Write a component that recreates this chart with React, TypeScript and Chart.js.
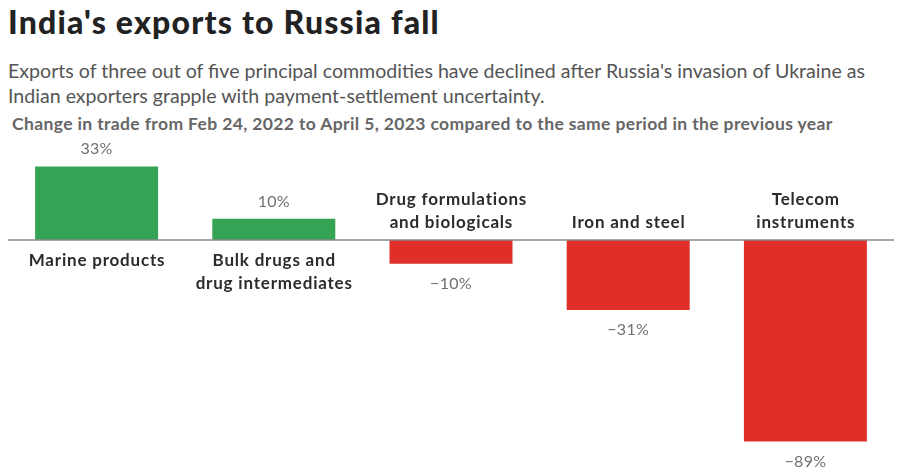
import React, { useEffect, useRef } from "react";
import { Chart, registerables } from "chart.js";

Chart.register(...registerables);

const categories: string[][] = [
  ["Marine products"],
  ["Bulk drugs and", "drug intermediates"],
  ["Drug formulations", "and biologicals"],
  ["Iron and steel"],
  ["Telecom", "instruments"],
];
const values: number[] = [32.7, 9.4, -10.6, -31.1, -89.6];
const valueLabels: string[] = ["33%", "10%", "−10%", "−31%", "−89%"];

const FONT = "Lato, 'Open Sans', sans-serif";
const GREEN = "#34a354";
const RED = "#df2f28";

const labelPlugin = {
  id: "labels",
  afterDatasetsDraw(chart: any) {
    const { ctx, chartArea, scales } = chart;
    const y0 = scales.y.getPixelForValue(0);
    ctx.save();
    ctx.strokeStyle = "#8a8a8a";
    ctx.lineWidth = 1.5;
    ctx.beginPath();
    ctx.moveTo(chartArea.left, y0);
    ctx.lineTo(chartArea.right, y0);
    ctx.stroke();
    const meta = chart.getDatasetMeta(0);
    ctx.textAlign = "center";
    ctx.textBaseline = "alphabetic";
    meta.data.forEach((bar: any, i: number) => {
      const v = values[i];
      const x = bar.x;
      const lines = categories[i];
      ctx.fillStyle = "#2b2b2b";
      ctx.font = `bold 17px ${FONT}`;
      (ctx as any).letterSpacing = "0.8px";
      const lh = 23;
      if (v >= 0) {
        lines.forEach((l, j) => ctx.fillText(l, x + 0.4, y0 + 26 + j * lh));
      } else {
        const n = lines.length;
        lines.forEach((l, j) => ctx.fillText(l, x + 0.4, y0 - 12 - (n - 1 - j) * lh));
      }
      (ctx as any).letterSpacing = "0.3px";
      ctx.fillStyle = "#707070";
      ctx.font = `16px ${FONT}`;
      if (v >= 0) ctx.fillText(valueLabels[i], x, bar.y - 12);
      else ctx.fillText(valueLabels[i], x, bar.y + 25);
    });
    ctx.restore();
  },
};

export default function App() {
  const ref = useRef<HTMLCanvasElement>(null);
  useEffect(() => {
    document.body.style.margin = "0";
    const chart = new Chart(ref.current!, {
      type: "bar",
      data: {
        labels: categories.map((c) => c.join(" ")),
        datasets: [
          {
            data: values,
            backgroundColor: values.map((v) => (v >= 0 ? GREEN : RED)),
            barPercentage: 0.694,
            categoryPercentage: 1,
          },
        ],
      },
      options: {
        animation: false,
        responsive: false,
        maintainAspectRatio: false,
        layout: { padding: { left: 8, right: 8, top: 0, bottom: 0 } },
        plugins: { legend: { display: false }, tooltip: { enabled: false } },
        scales: {
          x: { display: false },
          y: { display: false, min: -104.9, max: 44.44 },
        },
      },
      plugins: [labelPlugin],
    });
    return () => chart.destroy();
  }, []);

  return (
    <div style={{ position: "relative", width: 902, height: 476, background: "#fff", fontFamily: FONT, overflow: "hidden" }}>
      <div style={{ position: "absolute", left: 8, top: 2, fontSize: 32, fontWeight: 900, color: "#222", whiteSpace: "nowrap", lineHeight: "40px", letterSpacing: "1.2px" }}>
        India's exports to Russia fall
      </div>
      <div style={{ position: "absolute", left: 8, top: 58, fontSize: 19.6, color: "#555", whiteSpace: "nowrap", lineHeight: "25px" }}>
        Exports of three out of five principal commodities have declined after Russia's invasion of Ukraine as
        <br />
        Indian exporters grapple with payment-settlement uncertainty.
      </div>
      <div style={{ position: "absolute", left: 12, top: 112, fontSize: 17.5, fontWeight: 700, color: "#666", whiteSpace: "nowrap", lineHeight: "24px", letterSpacing: "0.37px" }}>
        Change in trade from Feb 24, 2022 to April 5, 2023 compared to the same period in the previous year
      </div>
      <canvas ref={ref} width={902} height={336} style={{ position: "absolute", left: 0, top: 140, width: 902, height: 336 }} />
    </div>
  );
}
